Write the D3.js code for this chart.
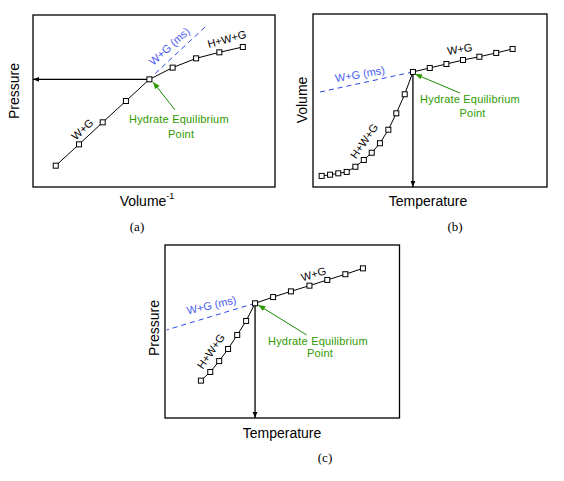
<!DOCTYPE html>
<html lang="en">
<head>
    <meta charset="UTF-8">
    <title>Hydrate equilibrium</title>
    <script src="https://d3js.org/d3.v7.min.js"></script>
    <style>
        body {margin: 0; background: white;}
        svg {display: block;}
    </style>
</head>
<body>
<script>
    const width = 564;
    const height = 481;

    // panel (a): Pressure vs 1/Volume
    const aX = [0.94, 1.90, 2.88, 3.84, 4.81, 5.77, 6.74, 7.70, 8.67];
    const aY = [1.24, 2.48, 3.76, 5.00, 6.26, 6.94, 7.48, 7.83, 8.14];
    const aMs = [[5.05, 6.60], [7.11, 9.30]];

    // panel (b): Volume vs Temperature
    const bX = [0.37, 0.73, 1.08, 1.44, 1.81, 2.17, 2.51, 2.86, 3.22, 3.56, 3.92, 4.27,
                4.99, 5.70, 6.41, 7.11, 7.83, 8.53];
    const bY = [0.64, 0.71, 0.79, 0.87, 1.17, 1.56, 1.98, 2.53, 3.31, 4.26, 5.36, 6.65,
                6.88, 7.11, 7.34, 7.53, 7.75, 7.98];
    const bMs = [[4.27, 6.65], [0.16, 5.45]];

    // panel (c): Pressure vs Temperature
    const cX = [1.53, 1.93, 2.31, 2.69, 3.08, 3.46, 3.84, 4.61, 5.37, 6.16, 6.92, 7.69, 8.44];
    const cY = [2.16, 2.66, 3.29, 3.99, 4.80, 5.61, 6.63, 6.99, 7.32, 7.65, 7.98, 8.31, 8.65];
    const cMs = [[3.84, 6.63], [0.07, 5.09]];

    const font = "'Liberation Sans', Arial, sans-serif";
    const green = "#2e9a00";
    const blue = "#4a5cf0";

    const svg = d3.select("body").append("svg")
            .attr("width", width).attr("height", height);

    const defs = svg.append("defs");
    function arrowMarker(id, color, size) {
        defs.append("marker")
                .attr("id", id)
                .attr("viewBox", "0 0 10 10")
                .attr("refX", 10).attr("refY", 5)
                .attr("markerWidth", size).attr("markerHeight", size)
                .attr("markerUnits", "userSpaceOnUse")
                .attr("orient", "auto")
                .append("path")
                .attr("d", "M0,1 L10,5 L0,9 Z")
                .style("fill", color);
    }
    arrowMarker("blackHead", "black", 6);
    arrowMarker("greenHead", green, 7);

    const panels = [
        {
            box: [33, 15, 275, 187], xs: aX, ys: aY, eq: 4, ms: aMs, drop: "left",
            yLabel: "Pressure", yLabelPos: [15, 91],
            xLabel: "Volume", xSup: "-1", xLabelPos: [147, 202], tag: "(a)", tagPos: [137, 228],
            lowLabel: {text: "W+G", at: [2.07, 3.31], rot: -43, color: "black"},
            highLabel: {text: "H+W+G", at: [8.02, 8.55], rot: -15, color: "black"},
            msLabel: {text: "W+G (ms)", at: [5.66, 8.14], rot: -42},
            pointer: [[5.87, 4.48], [4.96, 6.10]],
            note: [[6.03, 3.90], [6.12, 3.02]]
        },
        {
            box: [313, 14, 547, 187], xs: bX, ys: bY, eq: 11, ms: bMs, drop: "down",
            yLabel: "Volume", yLabelPos: [303, 100],
            xLabel: "Temperature", xLabelPos: [428, 202], tag: "(b)", tagPos: [455, 228],
            lowLabel: {text: "H+W+G", at: [2.22, 2.62], rot: -55, color: "black"},
            highLabel: {text: "W+G", at: [6.28, 7.92], rot: -10, color: "black"},
            msLabel: {text: "W+G (ms)", at: [2.01, 6.47], rot: -10},
            pointer: [[6.28, 5.43], [4.36, 6.53]],
            note: [[6.71, 5.03], [6.82, 4.22]]
        },
        {
            box: [165, 245, 399.5, 418], xs: cX, ys: cY, eq: 6, ms: cMs, drop: "down",
            yLabel: "Pressure", yLabelPos: [155, 328],
            xLabel: "Temperature", xLabelPos: [282, 434], tag: "(c)", tagPos: [325, 459],
            lowLabel: {text: "H+W+G", at: [1.99, 3.83], rot: -55, color: "black"},
            highLabel: {text: "W+G", at: [6.35, 8.27], rot: -17, color: "black"},
            msLabel: {text: "W+G (ms)", at: [1.99, 6.47], rot: -13},
            pointer: [[6.04, 4.80], [3.98, 6.53]],
            note: [[6.52, 4.41], [6.61, 3.70]]
        }
    ];

    panels.forEach(drawPanel);

    function drawPanel(p) {
        const [x0, y0, x1, y1] = p.box;
        const x = d3.scaleLinear().domain([0, 10]).range([x0, x1]);
        const y = d3.scaleLinear().domain([0, 10]).range([y1, y0]);
        const g = svg.append("g");
        const pts = p.xs.map((d, i) => [d, p.ys[i]]);
        const eq = pts[p.eq];

        g.append("rect")
                .attr("x", x0).attr("y", y0)
                .attr("width", x1 - x0).attr("height", y1 - y0)
                .style("fill", "none")
                .style("stroke", "black")
                .style("stroke-width", 1.3);

        // metastable extension
        g.append("path")
                .datum(p.ms)
                .attr("d", d3.line().x(d => x(d[0])).y(d => y(d[1])))
                .style("fill", "none")
                .style("stroke", "#2a46e8")
                .style("stroke-width", 1)
                .style("stroke-dasharray", "5 4");

        // drop line from the equilibrium point
        const end = p.drop === "left" ? [0, eq[1]] : [eq[0], 0];
        g.append("line")
                .attr("x1", x(eq[0])).attr("y1", y(eq[1]))
                .attr("x2", x(end[0])).attr("y2", y(end[1]))
                .attr("marker-end", "url(#blackHead)")
                .style("stroke", "black")
                .style("stroke-width", 1.3);

        g.append("path")
                .datum(pts)
                .attr("d", d3.line().x(d => x(d[0])).y(d => y(d[1])))
                .style("fill", "none")
                .style("stroke", "black")
                .style("stroke-width", 1);

        g.selectAll("rect.pt")
                .data(pts)
                .enter()
                .append("rect")
                .attr("class", "pt")
                .attr("x", d => x(d[0]) - 2.5)
                .attr("y", d => y(d[1]) - 2.5)
                .attr("width", 5).attr("height", 5)
                .style("fill", "white")
                .style("stroke", "black")
                .style("stroke-width", 1);

        [p.lowLabel, p.highLabel].forEach(l => {
            g.append("text")
                    .attr("transform", `translate(${x(l.at[0])},${y(l.at[1])}) rotate(${l.rot})`)
                    .attr("text-anchor", "middle")
                    .attr("dominant-baseline", "middle")
                    .style("font-family", font)
                    .style("font-size", "11px")
                    .style("fill", l.color)
                    .text(l.text);
        });

        g.append("text")
                .attr("transform", `translate(${x(p.msLabel.at[0])},${y(p.msLabel.at[1])}) rotate(${p.msLabel.rot})`)
                .attr("text-anchor", "middle")
                .attr("dominant-baseline", "middle")
                .style("font-family", font)
                .style("font-size", "11px")
                .style("fill", blue)
                .text(p.msLabel.text);

        // pointer to the equilibrium point
        g.append("line")
                .attr("x1", x(p.pointer[0][0])).attr("y1", y(p.pointer[0][1]))
                .attr("x2", x(p.pointer[1][0])).attr("y2", y(p.pointer[1][1]))
                .attr("marker-end", "url(#greenHead)")
                .style("stroke", "#1a8a00")
                .style("stroke-width", 1);

        ["Hydrate Equilibrium", "Point"].forEach((t, i) => {
            g.append("text")
                    .attr("x", x(p.note[i][0])).attr("y", y(p.note[i][1]))
                    .attr("text-anchor", "middle")
                    .attr("dominant-baseline", "middle")
                    .style("font-family", font)
                    .style("font-size", "11px")
                    .style("letter-spacing", "0.2px")
                    .style("fill", green)
                    .text(t);
        });

        g.append("text")
                .attr("transform", `translate(${p.yLabelPos[0]},${p.yLabelPos[1]}) rotate(-90)`)
                .attr("text-anchor", "middle")
                .attr("dominant-baseline", "middle")
                .style("font-family", font)
                .style("font-size", "14px")
                .text(p.yLabel);

        const xl = g.append("text")
                .attr("x", p.xLabelPos[0]).attr("y", p.xLabelPos[1])
                .attr("text-anchor", "middle")
                .attr("dominant-baseline", "middle")
                .style("font-family", font)
                .style("font-size", "14px")
                .text(p.xLabel);
        if (p.xSup) {
            xl.append("tspan")
                    .attr("dy", -5)
                    .style("font-size", "9px")
                    .text(p.xSup);
        }

        g.append("text")
                .attr("x", p.tagPos[0]).attr("y", p.tagPos[1])
                .attr("text-anchor", "middle")
                .attr("dominant-baseline", "middle")
                .style("font-family", "'Liberation Serif', 'Times New Roman', serif")
                .style("font-size", "13px")
                .text(p.tag);
    }
</script>
</body>
</html>
